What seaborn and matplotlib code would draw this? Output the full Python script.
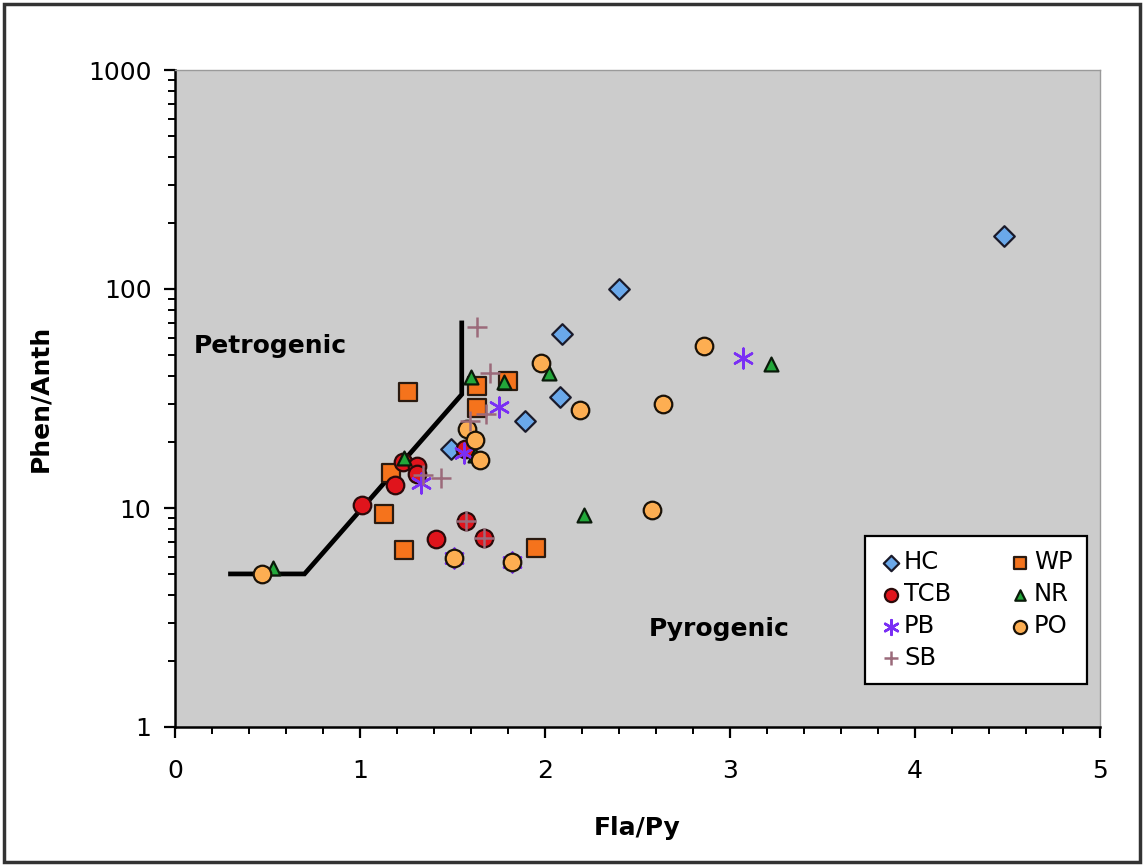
import matplotlib
matplotlib.use("Agg")
import matplotlib.pyplot as plt
import matplotlib.patches as mpatches
from matplotlib.ticker import FixedLocator, MultipleLocator, LogLocator, NullFormatter, FixedFormatter
import seaborn as sns
import numpy as np

# ---- data ----
HC_x = [1.49, 1.89, 2.08, 2.09, 2.40, 4.48]
HC_y = [18.5, 25.0, 32.0, 62.0, 100.0, 175.0]

WP_x = [1.13, 1.17, 1.24, 1.26, 1.63, 1.63, 1.80, 1.95]
WP_y = [9.4, 14.5, 6.4, 34.0, 28.5, 36.0, 38.0, 6.6]

TCB_x = [1.01, 1.19, 1.23, 1.31, 1.31, 1.41, 1.57, 1.575, 1.67]
TCB_y = [10.3, 12.8, 16.2, 15.6, 14.3, 7.2, 18.6, 8.7, 7.3]

NR_x = [0.53, 1.24, 1.60, 1.62, 1.78, 2.02, 2.21, 3.22]
NR_y = [5.3, 17.0, 39.5, 17.5, 37.5, 41.5, 9.3, 45.5]

PB_x = [1.33, 1.51, 1.56, 1.75, 1.82, 3.07]
PB_y = [13.0, 5.9, 17.8, 29.0, 5.65, 48.5]

PO_x = [0.47, 1.51, 1.58, 1.62, 1.65, 1.82, 1.98, 2.19, 2.58, 2.64, 2.86]
PO_y = [5.0, 5.9, 23.0, 20.5, 16.5, 5.65, 46.0, 28.0, 9.8, 30.0, 55.0]

SB_x = [1.34, 1.44, 1.575, 1.595, 1.63, 1.68, 1.67, 1.70]
SB_y = [14.2, 13.7, 8.7, 25.0, 67.0, 27.0, 7.3, 41.5]

boundary_x = [0.3, 0.7, 1.55, 1.55]
boundary_y = [5.0, 5.0, 33.0, 70.0]

x_ticks = [0, 1, 2, 3, 4, 5]
y_ticks = [1, 10, 100, 1000]
y_tick_labels = ["1", "10", "100", "1000"]

series = [
    # name, x, y, marker, face, edge, size
    ("HC", HC_x, HC_y, "D", "#6aa8ea", "#1a1a2a", 110),
    ("WP", WP_x, WP_y, "s", "#f5731c", "#2a1a10", 150),
    ("TCB", TCB_x, TCB_y, "o", "#e0141c", "#2a0a0a", 160),
    ("NR", NR_x, NR_y, "^", "#22a83a", "#0a1a0a", 100),
    ("PB", PB_x, PB_y, (6, 2, 0), "#7a2ff5", "#7a2ff5", 200),
    ("PO", PO_x, PO_y, "o", "#fdae52", "#1a1208", 160),
    ("SB", SB_x, SB_y, "+", "#9b6a7a", "#9b6a7a", 200),
]

plt.rcParams['font.family'] = ['DejaVu Sans']
fig = plt.figure(figsize=(11.44, 8.66), dpi=100)
fig.patch.set_facecolor("white")
ax = fig.add_axes([175 / 1144, 1 - 727 / 866, 925 / 1144, 657 / 866])
ax.set_facecolor("#cccccc")

ax.plot(boundary_x, boundary_y, color="black", lw=3.4, solid_joinstyle="miter", zorder=2)

for i, (name, xs, ys, mk, fc, ec, s) in enumerate(series):
    if mk in ("+",) or isinstance(mk, tuple):
        sns.scatterplot(x=xs, y=ys, marker=mk, color=fc, s=s, linewidth=1.8,
                        ax=ax, zorder=3 + i, label=name)
    else:
        sns.scatterplot(x=xs, y=ys, marker=mk, color=fc, edgecolor=ec, s=s,
                        linewidth=1.6, ax=ax, zorder=3 + i, label=name)

ax.set_yscale("log")
ax.set_xlim(0, 5)
ax.set_ylim(1, 1000)

ax.xaxis.set_major_locator(FixedLocator(x_ticks))
ax.xaxis.set_minor_locator(MultipleLocator(0.2))
ax.yaxis.set_major_locator(FixedLocator(y_ticks))
ax.yaxis.set_major_formatter(FixedFormatter(y_tick_labels))
ax.yaxis.set_minor_locator(LogLocator(base=10, subs=np.arange(2, 10)))
ax.yaxis.set_minor_formatter(NullFormatter())

ax.tick_params(axis="both", which="major", direction="out", length=8, width=1.6,
               labelsize=18, colors="black", pad=9)
ax.tick_params(axis="both", which="minor", direction="out", length=5, width=1.4)
ax.tick_params(axis="x", which="major", pad=15)

for sp in ["left", "bottom"]:
    ax.spines[sp].set_color("black")
    ax.spines[sp].set_linewidth(1.8)
for sp in ["top", "right"]:
    ax.spines[sp].set_color("#9a9a9a")
    ax.spines[sp].set_linewidth(1.0)

ax.set_xlabel("Fla/Py", fontsize=18, fontweight="bold", labelpad=24)
ax.set_ylabel("Phen/Anth", fontsize=18, fontweight="bold", labelpad=26)

ax.text(0.1, 55, "Petrogenic", fontsize=18, fontweight="bold", va="center", ha="left")
ax.text(2.56, 2.8, "Pyrogenic", fontsize=18, fontweight="bold", va="center", ha="left")

h, l = ax.get_legend_handles_labels()
hmap = dict(zip(l, h))
order = ["HC", "TCB", "PB", "SB", "WP", "NR", "PO"]
leg = ax.legend([hmap[k] for k in order], order, ncol=2, loc="lower right",
                bbox_to_anchor=(0.986, 0.065), fontsize=17.5, frameon=True,
                fancybox=False, edgecolor="black", facecolor="white", framealpha=1,
                handletextpad=0.1, columnspacing=2.4, handlelength=0.9,
                borderpad=0.6, labelspacing=0.32, markerscale=0.75,
                borderaxespad=0)
leg.get_frame().set_linewidth(1.6)
leg.set_zorder(20)

fig.patches.append(mpatches.Rectangle((4 / 1144, 4 / 866), 1136 / 1144, 858 / 866,
                                      transform=fig.transFigure, fill=False,
                                      edgecolor="#333333", linewidth=2.5))

fig.savefig("out.png", dpi=100, facecolor="white")
